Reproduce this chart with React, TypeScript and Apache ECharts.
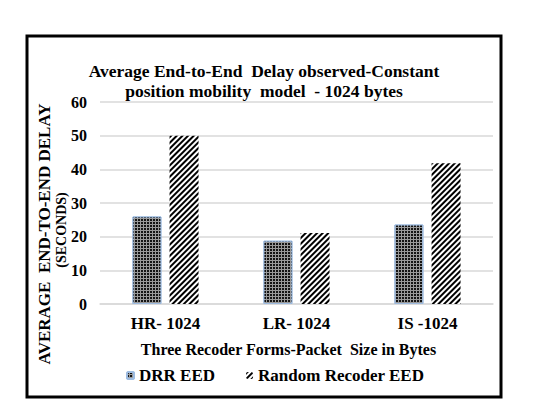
import React, { useEffect, useRef } from "react";
import * as echarts from "echarts";

const categories = ["HR- 1024", "LR- 1024", "IS -1024"];
const drrValues = [26, 18.8, 23.6];
const randomValues = [50, 21.1, 41.8];
const seriesNames = ["DRR EED", "Random Recoder EED"];
const titleLines = ["Average End-to-End  Delay observed-Constant", "position mobility  model  - 1024 bytes"];
const yAxisTitleMain = "AVERAGE  END-TO-END DELAY";
const yAxisTitleUnit = "(SECONDS)";
const xAxisTitle = "Three Recoder Forms-Packet  Size in Bytes";

const FONT = "Liberation Serif, serif";

export default function App() {
  const ref = useRef<HTMLDivElement>(null);
  useEffect(() => {
    if (!ref.current) return;
    const chart = echarts.init(ref.current, null, { renderer: "svg" });
    chart.setOption({
      animation: false,
      backgroundColor: "#ffffff",
      aria: { enabled: true, decal: { show: true } },
      textStyle: { fontFamily: FONT, fontWeight: "bold", color: "#000" },
      graphic: [
        {
          type: "rect",
          shape: { x: 27, y: 36, width: 474, height: 361 },
          style: { fill: "none", stroke: "#000", lineWidth: 3 },
          silent: true,
        },
        {
          type: "text",
          x: 264,
          y: 61,
          style: {
            text: titleLines.join("\n"),
            textAlign: "center",
            textVerticalAlign: "top",
            fontFamily: FONT,
            fontWeight: "bold",
            fontSize: 17.5,
            lineHeight: 20,
            fill: "#000",
          },
        },
        {
          type: "text",
          x: 44,
          y: 234,
          rotation: Math.PI / 2,
          style: {
            text: yAxisTitleMain,
            textAlign: "center",
            textVerticalAlign: "middle",
            fontFamily: FONT,
            fontWeight: "bold",
            fontSize: 17,
            fill: "#000",
          },
        },
        {
          type: "text",
          x: 61,
          y: 230,
          rotation: Math.PI / 2,
          style: {
            text: yAxisTitleUnit,
            textAlign: "center",
            textVerticalAlign: "middle",
            fontFamily: FONT,
            fontWeight: "bold",
            fontSize: 14,
            fill: "#000",
          },
        },
      ],
      grid: { left: 100, right: 52, top: 102, bottom: 111, containLabel: false },
      legend: {
        data: seriesNames,
        left: 121,
        top: 362,
        itemWidth: 7,
        itemHeight: 7,
        itemGap: 31,
        textStyle: { fontFamily: FONT, fontWeight: "bold", fontSize: 17, color: "#000" },
      },
      xAxis: {
        type: "category",
        data: categories,
        name: xAxisTitle,
        nameLocation: "middle",
        nameGap: 37,
        nameTextStyle: {
          fontFamily: FONT,
          fontWeight: "bold",
          fontSize: 16,
          color: "#000",
          verticalAlign: "top",
          padding: [0, 16, 0, 0],
        },
        axisTick: { show: false },
        axisLine: { lineStyle: { color: "#d9d9d9", width: 1.5 } },
        axisLabel: { margin: 11, fontFamily: FONT, fontWeight: "bold", fontSize: 17, color: "#000" },
      },
      yAxis: {
        type: "value",
        min: 0,
        max: 60,
        interval: 10,
        axisLine: { show: false },
        axisTick: { show: false },
        axisLabel: { margin: 13, fontFamily: FONT, fontWeight: "bold", fontSize: 16, color: "#000" },
        splitLine: { lineStyle: { color: "#d9d9d9", width: 1.5 } },
      },
      series: [
        {
          name: seriesNames[0],
          type: "bar",
          data: drrValues,
          barWidth: 29,
          barGap: "28%",
          itemStyle: {
            color: "#999999",
            borderColor: "#9dbbe0",
            borderWidth: 1,
            decal: {
              symbol: "rect",
              symbolSize: 1,
              dashArrayX: [2, 1],
              dashArrayY: [2, 1],
              color: "#141414",
              backgroundColor: "#a6a6a6",
              rotation: 0,
            },
          },
        },
        {
          name: seriesNames[1],
          type: "bar",
          data: randomValues,
          barWidth: 29,
          itemStyle: {
            color: "#ffffff",
            decal: {
              symbol: "rect",
              symbolSize: 1,
              dashArrayX: [1, 0],
              dashArrayY: [1.6, 1.4],
              color: "#000000",
              backgroundColor: "#ffffff",
              rotation: -Math.PI / 4,
            },
          },
        },
      ],
    });
    return () => chart.dispose();
  }, []);
  return (
    <div
      ref={ref}
      style={{ position: "absolute", left: 0, top: 0, width: 545, height: 415 }}
    />
  );
}
